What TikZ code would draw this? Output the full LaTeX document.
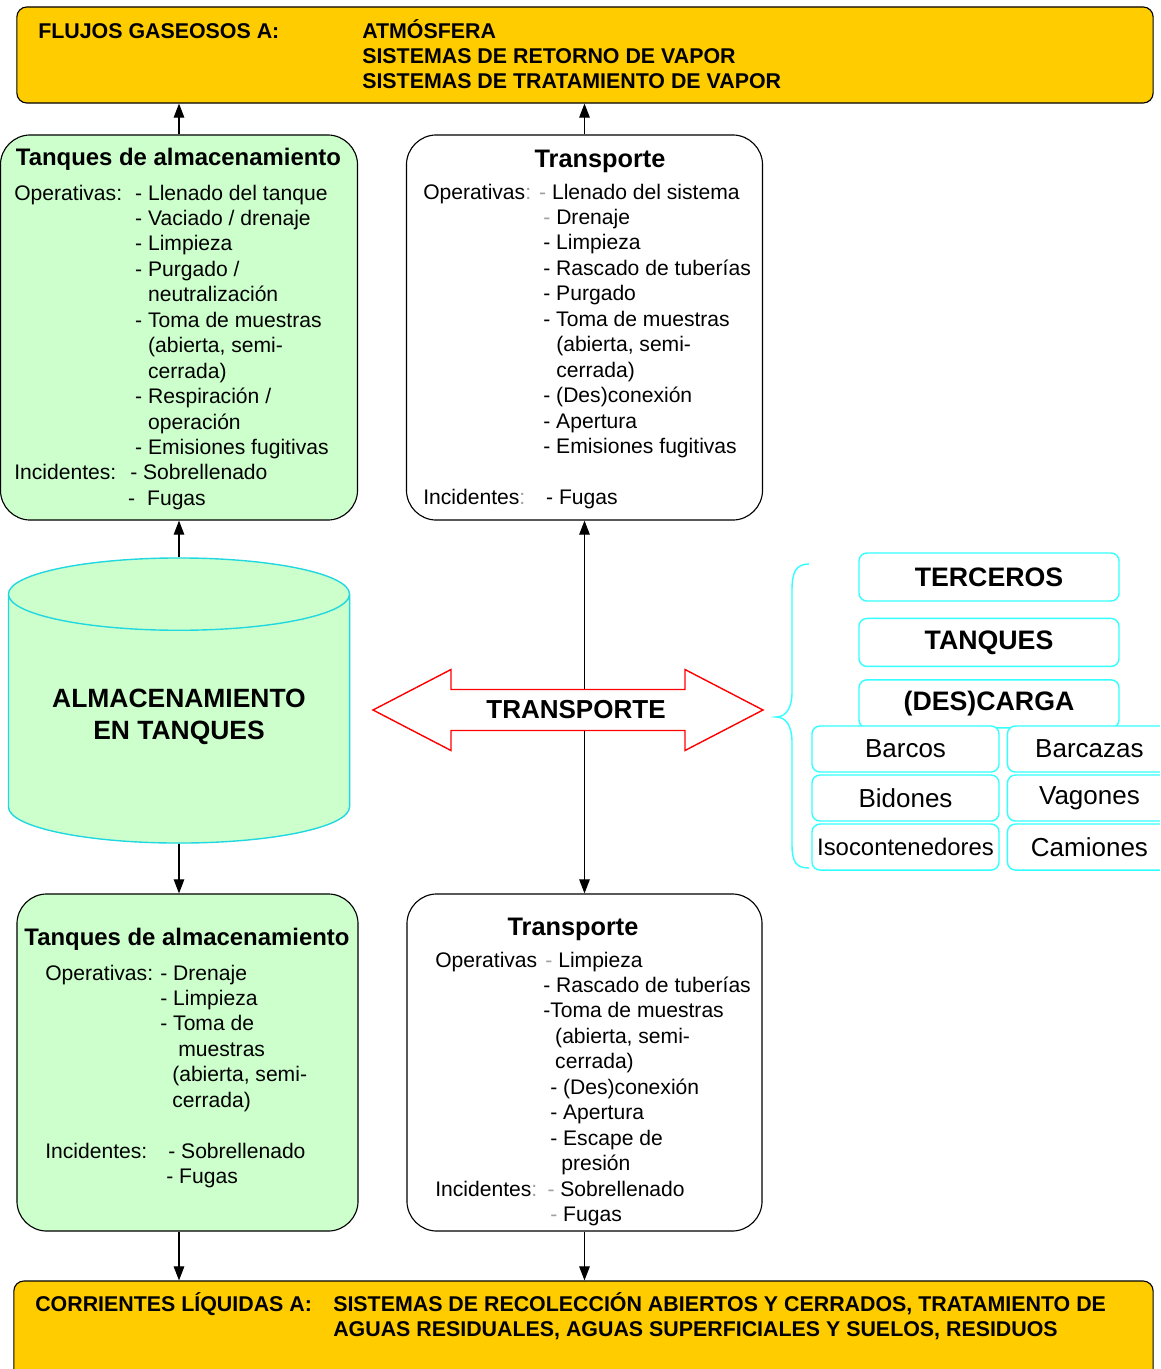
\documentclass[tikz,border=0pt]{standalone}
\usepackage{fontspec}
\setmainfont{Liberation Sans}
\usetikzlibrary{shapes,arrows,positioning,fit,backgrounds,arrows.meta,calc}

\definecolor{flowyellow}{HTML}{FFCC00}
\definecolor{tankgreen}{HTML}{CCFFCC}
\definecolor{boxcyan}{HTML}{33FFFF}
\definecolor{tankcyan}{HTML}{22D8E0}
\definecolor{softgray}{HTML}{A0A0A0}

\begin{document}
\begin{tikzpicture}[
    x=0.025cm, y=-0.025cm,
    flow_bar/.style={
      rectangle, draw, line width=0.8pt, fill=flowyellow,
      rounded corners=0.25cm
    },
    bar_text/.style={
      anchor=base west, inner sep=0pt,
      font=\fontsize{15.2}{18.1}\selectfont\bfseries
    },
    stage_box/.style={
      rectangle, draw, line width=0.8pt, rounded corners=0.75cm
    },
    stage_title/.style={
      anchor=base, inner sep=0pt, font=\fontsize{17}{20}\selectfont\bfseries
    },
    stage_text/.style={
      anchor=base west, inner sep=0pt, font=\fontsize{15}{18.1}\selectfont
    },
    vehicle/.style={
      rectangle, draw=boxcyan, line width=1pt, fill=white,
      rounded corners=0.2cm, font=\fontsize{18.5}{20}\selectfont
    },
    carrier/.style={
      vehicle, minimum width=6.5cm, minimum height=1.2cm,
      font=\fontsize{19}{20}\selectfont\bfseries
    },
    link/.style={draw, line width=0.8pt},
    flow/.style={link, -{Triangle[length=10pt,width=7.5pt]}}
  ]
  \useasboundingbox (0,0) rectangle (1160,1369);
  \clip (0,0) rectangle (1160,1369);

  % outlets
  \node[flow_bar, minimum width=28.4cm, minimum height=2.4cm] (gasflow) at (585,55) {};
  \node[bar_text] (gaslabel) at (38,38) {FLUJOS GASEOSOS A:};
  \node[bar_text] (gasdest) at (362,38) {\begin{tabular}[t]{@{}l@{}}
    ATMÓSFERA\\
    SISTEMAS DE RETORNO DE VAPOR\\
    SISTEMAS DE TRATAMIENTO DE VAPOR
  \end{tabular}};
  \node[flow_bar, minimum width=28.475cm, minimum height=2.75cm] (liqflow) at (583.5,1336) {};
  \node[bar_text] (liqlabel) at (35,1311) {CORRIENTES LÍQUIDAS A:};
  \node[bar_text] (liqdest) at (333,1311) {\begin{tabular}[t]{@{}l@{}}
    SISTEMAS DE RECOLECCIÓN ABIERTOS Y CERRADOS, TRATAMIENTO DE\\
    AGUAS RESIDUALES, AGUAS SUPERFICIALES Y SUELOS, RESIDUOS
  \end{tabular}};

  % emission boxes
  \node[stage_box, fill=tankgreen, minimum width=8.925cm, minimum height=9.625cm] (tankTop) at (179,327.5) {};
  \node[stage_box, fill=white, minimum width=8.9cm, minimum height=9.625cm] (transTop) at (584.5,327.5) {};
  \node[stage_box, fill=tankgreen, minimum width=8.525cm, minimum height=8.425cm] (tankBot) at (187.5,1062.5) {};
  \node[stage_box, fill=white, minimum width=8.875cm, minimum height=8.425cm] (transBot) at (584.5,1062.5) {};

  \node[stage_title] (tankTopTitle) at (178.5,165) {Tanques de almacenamiento};
  \node[stage_text] (tankTopList) at (14,200) {\begin{tabular}[t]{@{}p{86pt}@{}l@{}}
    Operativas: & - Llenado del tanque\\
    & - Vaciado / drenaje\\
    & - Limpieza\\
    & - Purgado /\\
    & \phantom{- }neutralización\\
    & - Toma de muestras\\
    & \phantom{- }(abierta, semi-\\
    & \phantom{- }cerrada)\\
    & - Respiración /\\
    & \phantom{- }operación\\
    & - Emisiones fugitivas\\
    Incidentes: & \hspace{-3.5pt}- Sobrellenado\\
    & \hspace{-5pt}-\hspace{8.5pt}Fugas
  \end{tabular}};

  \node[stage_title, font=\fontsize{18}{20}\selectfont\bfseries] (transTopTitle) at (600,167) {Transporte};
  \node[stage_text] (transTopList) at (423,199) {\begin{tabular}[t]{@{}p{85.4pt}@{}l@{}}
    Operativas{\color{softgray}:} & \hspace{-3pt}{\color{softgray}-} Llenado del sistema\\
    & {\color{softgray}-} Drenaje\\
    & - Limpieza\\
    & - Rascado de tuberías\\
    & - Purgado\\
    & - Toma de muestras\\
    & \phantom{- }(abierta, semi-\\
    & \phantom{- }cerrada)\\
    & - (Des)conexión\\
    & - Apertura\\
    & - Emisiones fugitivas\\
    & \\
    Incidentes{\color{softgray}:} & \hspace{2pt}- Fugas
  \end{tabular}};

  \node[stage_title] (tankBotTitle) at (187,945) {Tanques de almacenamiento};
  \node[stage_text] (tankBotList) at (45,980) {\begin{tabular}[t]{@{}p{81.8pt}@{}l@{}}
    Operativas: & - Drenaje\\
    & - Limpieza\\
    & - Toma de\\
    & \hspace{12.8pt}muestras\\
    & \hspace{8.5pt}(abierta, semi-\\
    & \hspace{8.5pt}cerrada)\\
    & \\
    Incidentes: & \hspace{5.7pt}- Sobrellenado\\
    & \hspace{4.3pt}- Fugas
  \end{tabular}};

  \node[stage_title, font=\fontsize{18}{20}\selectfont\bfseries] (transBotTitle) at (573,935) {Transporte};
  \node[stage_text] (transBotList) at (435,967) {\begin{tabular}[t]{@{}p{76.8pt}@{}l@{}}
    Operativas & \hspace{1.5pt}{\color{softgray}-} Limpieza\\
    & - Rascado de tuberías\\
    & -Toma de muestras\\
    & \hspace{8.5pt}(abierta, semi-\\
    & \hspace{8.5pt}cerrada)\\
    & \hspace{5pt}- (Des)conexión\\
    & \hspace{5pt}- Apertura\\
    & \hspace{5pt}- Escape de\\
    & \hspace{12.8pt}presión\\
    Incidentes{\color{softgray}:} & \hspace{3pt}{\color{softgray}-} Sobrellenado\\
    & \hspace{5pt}{\color{softgray}-} Fugas
  \end{tabular}};

  % storage and transport
  \node[cylinder, shape border rotate=90, aspect=0.275, draw=tankcyan, line width=1pt,
        fill=tankgreen, minimum width=8.525cm, minimum height=7.125cm, align=center,
        anchor=shape center, text depth=12pt,
        font=\fontsize{18.8}{22.8}\selectfont\bfseries] (storage) at (179,700.5)
        {ALMACENAMIENTO\\EN TANQUES};
  \node[rectangle, inner sep=0pt, minimum width=9.75cm, minimum height=1.025cm,
        font=\fontsize{18.5}{20}\selectfont\bfseries] (transArrow) at (576,710) {TRANSPORTE};

  % carriers
  \node[carrier] (thirdParty) at (989,577) {TERCEROS};
  \node[carrier, below=0.4cm of thirdParty] (tanks) {TANQUES};
  \node[carrier, below=0.3cm of tanks] (loading) {(DES)CARGA};
  \node[vehicle, minimum width=4.675cm, minimum height=1.15cm] (ships) at (905.5,749) {Barcos};
  \node[vehicle, minimum width=4.675cm, minimum height=1.15cm, below=0.04cm of ships] (drums) {Bidones};
  \node[vehicle, minimum width=4.675cm, minimum height=1.15cm, below=0.04cm of drums,
        font=\fontsize{17}{20}\selectfont] (isotanks) {Isocontenedores};
  \node[vehicle, minimum width=4.1cm, minimum height=1.15cm, right=0.175cm of ships] (barges) {Barcazas};
  \node[vehicle, minimum width=4.1cm, minimum height=1.15cm, right=0.175cm of drums] (wagons) {Vagones};
  \node[vehicle, minimum width=4.1cm, minimum height=1.15cm, right=0.175cm of isotanks] (trucks) {Camiones};
  \draw[boxcyan, line width=1pt] (809,564) .. controls (796,564) and (792,572) .. (792,590) -- (792,692)
    .. controls (792,708) and (786,717) .. (776,717) .. controls (786,717) and (792,726) .. (792,742)
    -- (792,844) .. controls (792,862) and (796,868) .. (809,868);

  % connectors
  \draw[flow] (tankTop) -- (tankTop |- gasflow.south);
  \draw[flow] (transTop) -- (transTop |- gasflow.south);
  \draw[flow] (storage) -- (tankTop);
  \draw[flow] (storage) -- (storage |- tankBot.north);
  \draw[flow] (storage |- tankBot.south) -- (storage |- liqflow.north);
  \draw[flow] (transBot) -- (transBot |- liqflow.north);
  \begin{scope}[on background layer]
    \draw[link, {Triangle[length=10pt,width=7.5pt]}-{Triangle[length=10pt,width=7.5pt]}] (transTop) -- (transBot);
    \draw[red, line width=1pt, fill=white, shift={(transArrow.center)}]
      (-203,0) -- (-125,-40.5) -- (-125,-20.5) -- (109,-20.5) -- (109,-40.5) -- (187,0)
      -- (109,40.5) -- (109,20.5) -- (-125,20.5) -- (-125,40.5) -- cycle;
  \end{scope}
\end{tikzpicture}
\end{document}
